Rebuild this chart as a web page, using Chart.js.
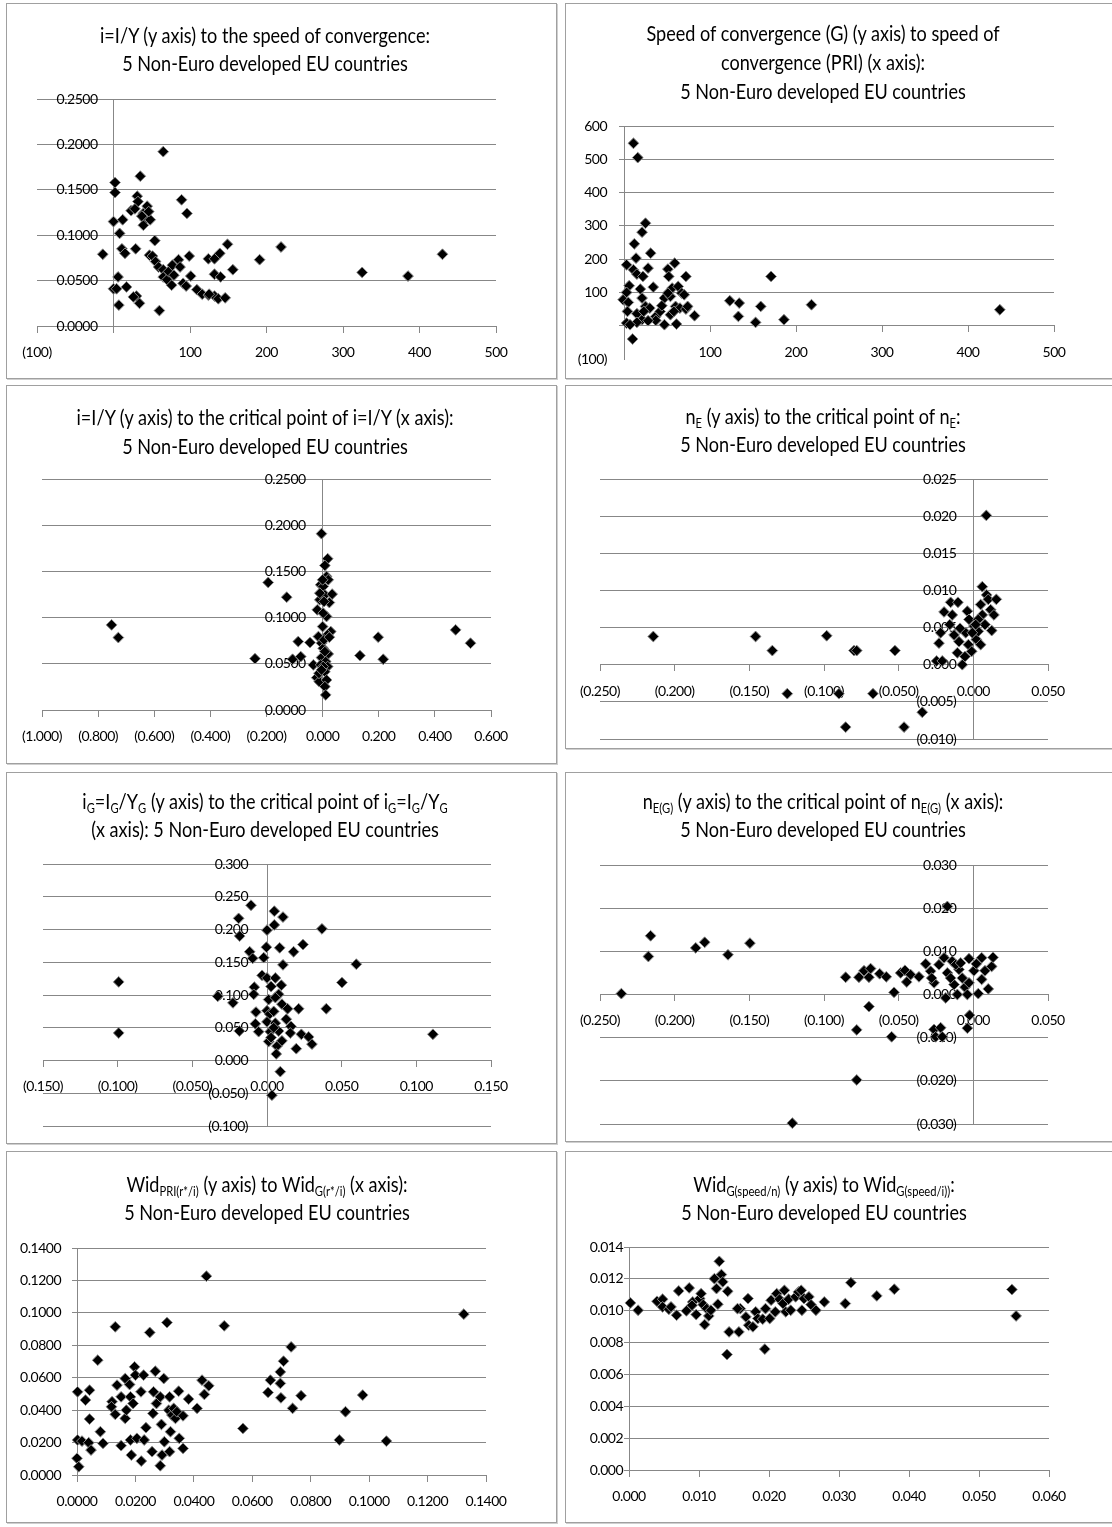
<!DOCTYPE html>
<html>
<head>
<meta charset="utf-8">
<script src="https://cdn.jsdelivr.net/npm/chart.js@4.4.1/dist/chart.umd.min.js"></script>
<style>
html, body { margin: 0; padding: 0; background: #fff; }
body { width: 1112px; height: 1527px; position: relative; overflow: hidden; font-family: Lato, "Open Sans", sans-serif; }
.panel { position: absolute; box-sizing: border-box; border: 1px solid #a0a0a0; box-shadow: 1px 1px 0 #cfcfcf; background: #fff; }
.panel canvas { position: absolute; left: 0; top: 0; }
.ttl { position: absolute; white-space: nowrap; transform: translateX(-50%) scaleX(0.86); text-align: center; font-size: 21px; line-height: 28px; color: #000; }
.ttl sub { font-size: 13px; vertical-align: -4px; line-height: 0; }
</style>
</head>
<body>

<div class="panel" id="b1"><canvas id="c1"></canvas></div>
<div class="panel" id="b2"><canvas id="c2"></canvas></div>
<div class="panel" id="b3"><canvas id="c3"></canvas></div>
<div class="panel" id="b4"><canvas id="c4"></canvas></div>
<div class="panel" id="b5"><canvas id="c5"></canvas></div>
<div class="panel" id="b6"><canvas id="c6"></canvas></div>
<div class="panel" id="b7"><canvas id="c7"></canvas></div>
<div class="panel" id="b8"><canvas id="c8"></canvas></div>

<div class="ttl" style="left:265px;top:21px">i=I/Y (y axis) to the speed of convergence:<br>5 Non-Euro developed EU countries</div>
<div class="ttl" style="left:823px;top:18px;line-height:29px">Speed of convergence (G) (y axis) to speed of<br>convergence (PRI) (x axis):<br>5 Non-Euro developed EU countries</div>
<div class="ttl" style="left:265px;top:402px;line-height:29px">i=I/Y (y axis) to the critical point of i=I/Y (x axis):<br>5 Non-Euro developed EU countries</div>
<div class="ttl" style="left:823px;top:402px">n<sub>E</sub> (y axis) to the critical point of n<sub>E</sub>:<br>5 Non-Euro developed EU countries</div>
<div class="ttl" style="left:265px;top:787px">i<sub>G</sub>=I<sub>G</sub>/Y<sub>G</sub> (y axis) to the critical point of i<sub>G</sub>=I<sub>G</sub>/Y<sub>G</sub><br>(x axis): 5 Non-Euro developed EU countries</div>
<div class="ttl" style="left:823px;top:787px">n<sub>E(G)</sub> (y axis) to the critical point of n<sub>E(G)</sub> (x axis):<br>5 Non-Euro developed EU countries</div>
<div class="ttl" style="left:267px;top:1170px">Wid<sub>PRI(r*/i)</sub> (y axis) to Wid<sub>G(r*/i)</sub> (x axis):<br>5 Non-Euro developed EU countries</div>
<div class="ttl" style="left:824px;top:1170px">Wid<sub>G(speed/n)</sub> (y axis) to Wid<sub>G(speed/i))</sub>:<br>5 Non-Euro developed EU countries</div>

<script>
// panel 1: speed of convergence (x) vs i=I/Y (y)
const p1X = [-14, 2, 2, 0, 8, 12, 11, 15, 6, 0, 4, 17, 7, 23, 29, 35, 31, 32, 28, 39, 41, 44, 48, 39, 46, 30, 34, 54, 47, 51, 55, 59, 65, 60, 65, 65, 70, 72, 77, 76, 79, 85, 87, 89, 91, 96, 95, 99, 101, 109, 116, 124, 124, 132, 132, 132, 139, 140, 137, 146, 149, 156, 191, 219, 325, 385, 430, 26, 37, 125];
const p1Y = [0.079, 0.158, 0.147, 0.115, 0.102, 0.117, 0.085, 0.080, 0.054, 0.041, 0.041, 0.043, 0.023, 0.127, 0.085, 0.165, 0.143, 0.137, 0.129, 0.124, 0.117, 0.132, 0.117, 0.111, 0.126, 0.033, 0.025, 0.094, 0.078, 0.077, 0.071, 0.065, 0.192, 0.017, 0.062, 0.054, 0.051, 0.060, 0.067, 0.045, 0.056, 0.073, 0.065, 0.139, 0.047, 0.124, 0.044, 0.077, 0.055, 0.040, 0.035, 0.034, 0.074, 0.033, 0.074, 0.057, 0.080, 0.054, 0.030, 0.031, 0.090, 0.062, 0.073, 0.087, 0.059, 0.055, 0.079, 0.032, 0.121, 0.035];

// panel 2: speed of convergence PRI (x) vs G (y)
const p2X = [11, 16, 25, 21, 12, 31, 14, 3, 28, 11, 15, 22, 19, 34, 6, 3, -1, 5, 21, 25, 30, 4, 15, 21, 10, 3, 15, 23, 37, 42, 47, 44, 51, 52, 59, 54, 56, 60, 63, 61, 47, 54, 65, 67, 70, 72, 72, 74, 82, 37, 28, 58, 123, 134, 133, 153, 159, 171, 186, 218, 437, 7, 51];
const p2Y = [548, 505, 308, 281, 246, 218, 203, 183, 173, 168, 155, 148, 110, 116, 120, 100, 78, 70, 83, 58, 53, 43, 36, 18, -40, 8, 10, 43, 28, 43, 83, 60, 170, 148, 188, 33, 113, 58, 118, 5, 3, 88, 53, 98, 93, 148, 50, 58, 30, 16, 15, 43, 75, 68, 28, 10, 58, 148, 18, 63, 48, 3, 98];

// panel 3: critical point of i=I/Y (x) vs i=I/Y (y)
const p3X = [-0.752, -0.728, -0.241, -0.194, -0.128, -0.107, -0.087, -0.078, -0.045, -0.033, -0.019, -0.015, -0.021, -0.012, -0.013, -0.004, -0.007, -0.010, 0.002, 0.008, 0.018, 0.008, 0.014, 0.020, 0.034, 0.024, 0.005, 0.014, 0.029, 0.017, -0.004, 0.002, -0.004, 0.020, 0.011, 0.018, 0.008, 0.014, 0.008, 0.011, 0.133, 0.198, 0.216, 0.474, 0.527, -0.010, 0.002, 0.000, 0.005, 0.008, -0.007, 0.002, -0.004, 0.024, 0.000];
const p3Y = [0.0921, 0.0784, 0.0556, 0.1380, 0.1221, 0.0549, 0.0741, 0.0578, 0.0730, 0.0488, 0.1084, 0.0795, 0.0350, 0.0307, 0.0397, 0.1908, 0.1355, 0.1192, 0.1337, 0.1246, 0.1637, 0.1564, 0.1445, 0.1409, 0.1254, 0.1163, 0.1174, 0.1012, 0.0849, 0.0813, 0.0723, 0.0668, 0.0567, 0.0607, 0.0524, 0.0470, 0.0415, 0.0325, 0.0253, 0.0163, 0.0589, 0.0788, 0.0549, 0.0867, 0.0723, 0.1264, 0.1048, 0.0903, 0.0759, 0.0632, 0.0488, 0.0470, 0.0434, 0.0788, 0.1409];

// panel 4: critical point of nE (x) vs nE (y)
const p4X = [-0.2143, -0.1458, -0.1346, -0.1246, -0.0982, -0.0900, -0.0855, -0.0799, -0.0781, -0.0672, -0.0525, -0.0464, -0.0342, -0.0246, -0.0230, -0.0219, -0.0196, -0.0208, -0.0152, -0.0141, -0.0103, -0.0158, -0.0129, -0.0107, -0.0096, -0.0074, -0.0056, -0.0040, -0.0029, -0.0033, -0.0011, 0.0004, 0.0020, 0.0033, 0.0049, 0.0060, 0.0060, 0.0078, 0.0087, 0.0089, 0.0100, 0.0116, 0.0123, 0.0138, 0.0154, 0.0049, 0.0033, -0.0051, -0.0089, -0.0007, 0.0016];
const p4Y = [0.0038, 0.0038, 0.0019, -0.0039, 0.0039, -0.0039, -0.0084, 0.0019, 0.0019, -0.0039, 0.0019, -0.0084, -0.0064, 0.0005, 0.0029, 0.0043, 0.0071, 0.0005, 0.0084, 0.0067, 0.0084, 0.0054, 0.0040, 0.0016, 0.0031, 0.0000, 0.0011, 0.0072, 0.0061, 0.0027, 0.0018, 0.0052, 0.0034, 0.0045, 0.0081, 0.0105, 0.0067, 0.0054, 0.0201, 0.0094, 0.0088, 0.0074, 0.0046, 0.0067, 0.0088, 0.0027, 0.0061, 0.0043, 0.0049, 0.0043, 0.0054];

// panel 5: critical point of iG (x) vs iG (y)
const p5X = [-0.0993, -0.0993, -0.0330, -0.0228, -0.0185, -0.0190, -0.0183, -0.0107, -0.0116, -0.0096, -0.0085, -0.0089, -0.0074, -0.0078, -0.0056, -0.0022, -0.0004, 0.0000, -0.0033, 0.0000, 0.0011, 0.0000, 0.0018, 0.0000, 0.0022, 0.0011, 0.0049, 0.0049, 0.0107, 0.0085, 0.0107, 0.0056, 0.0096, 0.0078, 0.0100, 0.0045, 0.0056, 0.0078, 0.0067, 0.0062, 0.0089, 0.0033, 0.0138, 0.0129, 0.0161, 0.0156, 0.0178, 0.0212, 0.0196, 0.0230, 0.0241, 0.0279, 0.0301, 0.0368, 0.0397, 0.0502, 0.0598, 0.1111, 0.0056, 0.0027, 0.0100, 0.0045, 0.0027];
const p5Y = [0.120, 0.042, 0.098, 0.088, 0.045, 0.217, 0.190, 0.237, 0.166, 0.156, 0.112, 0.101, 0.074, 0.056, 0.044, 0.157, 0.173, 0.199, 0.130, 0.126, 0.093, 0.076, 0.071, 0.059, 0.044, 0.029, 0.228, 0.207, 0.219, 0.172, 0.146, 0.126, 0.115, 0.101, 0.086, 0.075, 0.057, 0.045, 0.022, 0.010, -0.017, -0.053, 0.079, 0.063, 0.052, 0.042, 0.166, 0.079, 0.018, 0.040, 0.177, 0.036, 0.025, 0.201, 0.079, 0.119, 0.147, 0.040, 0.096, 0.035, 0.030, 0.050, 0.113];

// panel 6: critical point of nE(G) (x) vs nE(G) (y)
const p6X = [-0.2357, -0.2176, -0.2161, -0.1859, -0.1799, -0.1643, -0.1496, -0.1212, -0.0855, -0.0781, -0.0781, -0.0766, -0.0732, -0.0699, -0.0688, -0.0699, -0.0627, -0.0583, -0.0547, -0.0531, -0.0487, -0.0458, -0.0446, -0.0420, -0.0364, -0.0319, -0.0286, -0.0263, -0.0263, -0.0252, -0.0230, -0.0219, -0.0208, -0.0196, -0.0174, -0.0185, -0.0174, -0.0141, -0.0129, -0.0107, -0.0096, -0.0074, -0.0056, -0.0040, -0.0029, -0.0029, -0.0040, -0.0025, 0.0004, 0.0020, 0.0033, 0.0056, 0.0056, 0.0078, 0.0100, 0.0123, 0.0132, -0.0118, -0.0085, -0.0279, -0.0152];
const p6Y = [0.0002, 0.0088, 0.0136, 0.0108, 0.0121, 0.0092, 0.0119, -0.0298, 0.0040, -0.0082, -0.0198, 0.0040, 0.0055, 0.0040, 0.0060, -0.0028, 0.0048, 0.0041, -0.0098, 0.0005, 0.0050, 0.0056, 0.0029, 0.0046, 0.0041, 0.0071, 0.0054, 0.0027, -0.0081, -0.0098, 0.0069, -0.0077, -0.0098, 0.0085, 0.0204, -0.0008, 0.0050, 0.0077, 0.0023, 0.0000, 0.0058, 0.0038, 0.0017, 0.0000, 0.0083, 0.0027, -0.0078, -0.0048, 0.0055, 0.0071, 0.0002, 0.0085, 0.0035, 0.0055, 0.0013, 0.0065, 0.0086, 0.0069, 0.0073, 0.0038, 0.0038];

// panel 7: WidG(r*/i) (x) vs WidPRI(r*/i) (y)
const p7X = [0.0002, 0.0002, 0.0000, 0.0006, 0.0017, 0.0029, 0.0043, 0.0040, 0.0043, 0.0048, 0.0071, 0.0080, 0.0089, 0.0120, 0.0118, 0.0131, 0.0137, 0.0131, 0.0151, 0.0151, 0.0165, 0.0165, 0.0169, 0.0180, 0.0183, 0.0183, 0.0186, 0.0192, 0.0197, 0.0200, 0.0205, 0.0219, 0.0220, 0.0228, 0.0230, 0.0236, 0.0249, 0.0257, 0.0260, 0.0262, 0.0268, 0.0272, 0.0285, 0.0285, 0.0291, 0.0289, 0.0297, 0.0299, 0.0308, 0.0314, 0.0317, 0.0317, 0.0320, 0.0325, 0.0331, 0.0337, 0.0342, 0.0348, 0.0350, 0.0363, 0.0363, 0.0382, 0.0411, 0.0428, 0.0436, 0.0443, 0.0451, 0.0504, 0.0568, 0.0654, 0.0662, 0.0696, 0.0696, 0.0698, 0.0707, 0.0733, 0.0738, 0.0767, 0.0898, 0.0919, 0.0978, 0.1059, 0.1324];
const p7Y = [0.0513, 0.0216, 0.0103, 0.0051, 0.0209, 0.0462, 0.0523, 0.0199, 0.0345, 0.0154, 0.0708, 0.0267, 0.0195, 0.0452, 0.0421, 0.0914, 0.0554, 0.0374, 0.0181, 0.0482, 0.0595, 0.0349, 0.0400, 0.0558, 0.0482, 0.0216, 0.0123, 0.0441, 0.0667, 0.0616, 0.0226, 0.0513, 0.0086, 0.0616, 0.0216, 0.0292, 0.0879, 0.0144, 0.0380, 0.0513, 0.0640, 0.0441, 0.0482, 0.0057, 0.0123, 0.0312, 0.0595, 0.0205, 0.0940, 0.0400, 0.0482, 0.0144, 0.0267, 0.0370, 0.0411, 0.0349, 0.0390, 0.0517, 0.0226, 0.0164, 0.0365, 0.0468, 0.0411, 0.0585, 0.0497, 0.1226, 0.0550, 0.0920, 0.0287, 0.0509, 0.0585, 0.0636, 0.0565, 0.0476, 0.0702, 0.0790, 0.0411, 0.0489, 0.0216, 0.0390, 0.0493, 0.0209, 0.0992];

// panel 8: WidG(speed/i) (x) vs WidG(speed/n) (y)
const p8X = [0.0002, 0.0013, 0.0040, 0.0048, 0.0048, 0.0057, 0.0060, 0.0068, 0.0071, 0.0082, 0.0086, 0.0091, 0.0090, 0.0096, 0.0101, 0.0103, 0.0106, 0.0108, 0.0111, 0.0114, 0.0117, 0.0122, 0.0125, 0.0127, 0.0129, 0.0132, 0.0134, 0.0141, 0.0140, 0.0143, 0.0157, 0.0159, 0.0167, 0.0170, 0.0171, 0.0177, 0.0181, 0.0184, 0.0191, 0.0194, 0.0195, 0.0201, 0.0203, 0.0209, 0.0211, 0.0215, 0.0220, 0.0222, 0.0224, 0.0228, 0.0231, 0.0238, 0.0242, 0.0246, 0.0247, 0.0250, 0.0257, 0.0260, 0.0267, 0.0279, 0.0309, 0.0317, 0.0354, 0.0379, 0.0547, 0.0553, 0.0155];
const p8Y = [0.01049, 0.01003, 0.01059, 0.01072, 0.01024, 0.01009, 0.01024, 0.00972, 0.01124, 0.00999, 0.01143, 0.01055, 0.01034, 0.00976, 0.01076, 0.01107, 0.01038, 0.00913, 0.01013, 0.00967, 0.01003, 0.01201, 0.01139, 0.01041, 0.01310, 0.01227, 0.01181, 0.01122, 0.00725, 0.00867, 0.00867, 0.01013, 0.00961, 0.01076, 0.00909, 0.00899, 0.00993, 0.00951, 0.00947, 0.00759, 0.01013, 0.00951, 0.01066, 0.00993, 0.01107, 0.01072, 0.01045, 0.01128, 0.00993, 0.01072, 0.01003, 0.01087, 0.01118, 0.01128, 0.01003, 0.01076, 0.01087, 0.01038, 0.01003, 0.01055, 0.01045, 0.01176, 0.01093, 0.01135, 0.01133, 0.00967, 0.01013];

const GRID = '#878787';
const FONT = { family: 'Lato, "Open Sans", sans-serif', size: 14 };

// Excel style numbers: negatives in brackets
function fmt(dec, hideZero) {
    return function (v) {
        if (Math.abs(v) < 1e-12) return hideZero ? '' : (0).toFixed(dec);
        const s = Math.abs(v).toFixed(dec);
        return v < 0 ? '(' + s + ')' : s;
    };
}

// y tick labels sit left of the crossing y axis, pushed off it by a gap;
// tick text is drawn slightly condensed like the original
const yLabelShift = {
    id: 'yLabelShift',
    beforeDraw(chart) {
        chart.ctx.letterSpacing = '-0.5px';
    },
    afterLayout(chart, args, opts) {
        const s = chart.scales.y;
        if (s._shifted) return;
        const orig = s.drawLabels;
        s.drawLabels = function (area) {
            this.ctx.save();
            this.ctx.translate(-(opts.gap || 0), 0);
            orig.call(this, area);
            this.ctx.restore();
        };
        s._shifted = true;
    }
};

function makeChart(n, xs, ys, o) {
    const box = document.getElementById('b' + n);
    box.style.left = o.box[0] + 'px';
    box.style.top = o.box[1] + 'px';
    box.style.width = o.box[2] + 'px';
    box.style.height = o.box[3] + 'px';
    const cv = document.getElementById('c' + n);
    cv.width = o.box[2] - 2;
    cv.height = o.box[3] - 2;
    const ox = o.box[0] + 1, oy = o.box[1] + 1;
    const pad = {
        left: o.plot[0] - ox,
        top: o.plot[1] - oy,
        right: ox + cv.width - o.plot[2],
        bottom: oy + cv.height - o.plot[3]
    };
    new Chart(cv, {
        type: 'scatter',
        data: {
            datasets: [{
                data: xs.map((x, i) => ({ x: x, y: ys[i] })),
                pointStyle: 'rectRot',
                pointRadius: 5.4,
                pointHoverRadius: 5.4,
                backgroundColor: '#000',
                borderColor: '#8a8a8a',
                borderWidth: 1,
                clip: false
            }]
        },
        options: {
            responsive: false,
            animation: false,
            events: [],
            layout: { padding: pad },
            plugins: {
                legend: { display: false },
                tooltip: { enabled: false },
                yLabelShift: { gap: o.gap }
            },
            scales: {
                x: {
                    type: 'linear',
                    position: { y: 0 },
                    min: o.x[0], max: o.x[1],
                    ticks: {
                        stepSize: o.x[2],
                        callback: fmt(o.x[3], o.xHideZero),
                        color: '#000', font: FONT, padding: 12,
                        maxRotation: 0, minRotation: 0, autoSkip: false
                    },
                    grid: { drawOnChartArea: false, drawTicks: true, tickLength: 6, color: GRID },
                    border: { color: GRID }
                },
                y: {
                    type: 'linear',
                    position: { x: 0 },
                    min: o.y[0], max: o.y[1],
                    ticks: {
                        stepSize: o.y[2],
                        callback: fmt(o.y[3], o.yHideZero),
                        color: '#000', font: FONT, padding: 0, autoSkip: false
                    },
                    grid: {
                        tickLength: 5,
                        color: ctx => (o.noGridAt !== undefined && Math.abs(ctx.tick.value - o.noGridAt) < 1e-9) ? 'rgba(0,0,0,0)' : GRID
                    },
                    border: { color: GRID }
                }
            }
        },
        plugins: [yLabelShift]
    });
}

makeChart(1, p1X, p1Y, { box: [6, 3, 551, 376], plot: [37, 99, 496, 326], x: [-100, 500, 100, 0], y: [0, 0.25, 0.05, 4], xHideZero: true, gap: 16 });
makeChart(2, p2X, p2Y, { box: [565, 3, 560, 376], plot: [624, 126, 1054, 359], x: [0, 500, 100, 0], y: [-100, 600, 100, 0], xHideZero: true, yHideZero: true, noGridAt: -100, gap: 17 });
makeChart(3, p3X, p3Y, { box: [6, 385, 551, 379], plot: [42, 479, 491, 710], x: [-1, 0.6, 0.2, 3], y: [0, 0.25, 0.05, 4], gap: 17 });
makeChart(4, p4X, p4Y, { box: [565, 385, 560, 364], plot: [600, 479, 1048, 739], x: [-0.25, 0.05, 0.05, 3], y: [-0.01, 0.025, 0.005, 3], gap: 17 });
makeChart(5, p5X, p5Y, { box: [6, 772, 551, 372], plot: [43, 864, 491, 1126], x: [-0.15, 0.15, 0.05, 3], y: [-0.1, 0.3, 0.05, 3], gap: 19 });
makeChart(6, p6X, p6Y, { box: [565, 772, 560, 370], plot: [600, 865, 1048, 1124], x: [-0.25, 0.05, 0.05, 3], y: [-0.03, 0.03, 0.01, 3], gap: 17 });
makeChart(7, p7X, p7Y, { box: [6, 1151, 551, 372], plot: [77, 1248, 486, 1475], x: [0, 0.14, 0.02, 4], y: [0, 0.14, 0.02, 4], gap: 16 });
makeChart(8, p8X, p8Y, { box: [565, 1151, 560, 372], plot: [629, 1247, 1049, 1470], x: [0, 0.06, 0.01, 3], y: [0, 0.014, 0.002, 3], gap: 6 });
</script>
</body>
</html>
